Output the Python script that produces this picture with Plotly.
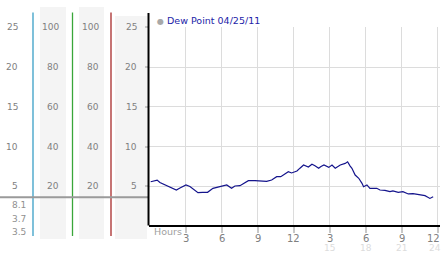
import plotly.graph_objects as go

W, H = 442, 253

# ---------------- data ----------------
hours = [0.06, 0.25, 0.6, 0.83, 1.25, 1.67, 2.2, 2.5, 3.0, 3.33, 3.67, 4.0, 4.4, 4.8,
         5.25, 5.67, 6.08, 6.4, 6.8, 7.08, 7.5, 7.8, 8.2, 8.75, 9.17, 9.72, 10.14,
         10.56, 10.9, 11.25, 11.53, 11.8, 12.08, 12.25, 12.5, 12.8, 13.2, 13.5, 13.75,
         14.06, 14.25, 14.5, 14.9, 15.17, 15.44, 15.86, 16.27, 16.47, 16.67, 16.83,
         17.1, 17.4, 17.67, 17.8, 18.08, 18.33, 18.9, 19.17, 19.58, 20.0, 20.25,
         20.69, 21.08, 21.53, 21.92, 22.33, 22.5, 22.92, 23.33, 23.6]
dew_point = [5.6, 5.65, 5.8, 5.5, 5.2, 4.95, 4.56, 4.8, 5.19, 5.0, 4.6, 4.22, 4.27, 4.27,
             4.77, 4.95, 5.06, 5.19, 4.77, 5.06, 5.1, 5.4, 5.73, 5.73, 5.73, 5.65, 5.82,
             6.23, 6.23, 6.53, 6.86, 6.7, 6.86, 6.95, 7.3, 7.7, 7.45, 7.79, 7.6,
             7.29, 7.5, 7.7, 7.4, 7.7, 7.29, 7.7, 7.9, 8.1, 7.6, 7.29,
             6.44, 6.03, 5.4, 4.97, 5.19, 4.77, 4.77, 4.56, 4.5, 4.35, 4.45,
             4.27, 4.35, 4.06, 4.1, 4.0, 3.93, 3.85, 3.5, 3.72]

temp_ticks = [5, 10, 15, 20, 25]
humidity_ticks = [20, 40, 60, 80, 100]
x_tick_vals = [3, 6, 9, 12, 15, 18, 21, 24]
x_tick_text = ["3", "6", "9", "12", "3", "6", "9", "12"]
x_24h_vals = [15, 18, 21, 24]
x_24h_text = ["15", "18", "21", "24"]
legend_label = "Dew Point 04/25/11"

stats = [f"{max(dew_point):.1f}", f"{dew_point[-1]:.1f}", f"{min(dew_point):.1f}"]

# ---------------- helpers ----------------
def px(x):
    return x / W

def py(y):
    return 1 - y / H

FONT = "DejaVu Sans"
fig = go.Figure()

fig.add_trace(go.Scatter(x=hours, y=dew_point, mode="lines",
                         line=dict(color="#14148c", width=1.2), showlegend=False,
                         hoverinfo="skip"))

shapes = []
# grey bands in the left panel
for x0, x1, y0, y1 in [(40, 66, 7, 239), (79, 104, 7, 239), (115, 147, 16, 239)]:
    shapes.append(dict(type="rect", xref="paper", yref="paper", x0=px(x0), x1=px(x1),
                       y0=py(y1), y1=py(y0), fillcolor="#f4f4f4", line=dict(width=0),
                       layer="below"))
# coloured vertical lines
for x, c in [(33, "#3a9fc6"), (72.5, "#3aa63a"), (111, "#a82a2a")]:
    shapes.append(dict(type="line", xref="paper", yref="paper", x0=px(x), x1=px(x),
                       y0=py(236), y1=py(12.5), line=dict(color=c, width=1.3)))
# grey horizontal separator
shapes.append(dict(type="line", xref="paper", yref="paper", x0=0, x1=px(148),
                   y0=py(197.2), y1=py(197.2), line=dict(color="#9a9a9a", width=2)))
# black left axis line
shapes.append(dict(type="line", xref="paper", yref="paper", x0=px(148.5), x1=px(148.5),
                   y0=py(225.5), y1=py(13), line=dict(color="black", width=2)))

ann = []
# left panel labels
for v, h in zip(temp_ticks, humidity_ticks):
    for xr, t in [(19, v), (60, h), (100, h), (138, v)]:
        ann.append(dict(x=px(xr), xref="paper", y=v, yref="y", text=str(t), showarrow=False,
                        xanchor="right", yanchor="middle", borderpad=0,
                        font=dict(size=9, color="#808080", family=FONT)))
for s, y in zip(stats, [205, 218.5, 232]):
    ann.append(dict(x=px(26.5), xref="paper", y=py(y), yref="paper", text=s, showarrow=False,
                    xanchor="right", yanchor="middle", borderpad=0,
                    font=dict(size=9, color="#909090", family=FONT)))

# x tick labels
ann.append(dict(x=px(153), xref="paper", y=py(231.5), yref="paper", text="Hours", showarrow=False,
                xanchor="left", yanchor="middle", borderpad=0,
                font=dict(size=9.5, color="#a0a0a0", family=FONT)))
for v, t in zip(x_tick_vals, x_tick_text):
    last = v == x_tick_vals[-1]
    ann.append(dict(x=px(441) if last else v, xref="paper" if last else "x", y=py(238), yref="paper",
                    text=t, showarrow=False, xanchor="right" if last else "center", yanchor="middle",
                    borderpad=0, font=dict(size=10, color="#808080", family=FONT)))
for v, t in zip(x_24h_vals, x_24h_text):
    last = v == x_24h_vals[-1]
    ann.append(dict(x=px(442) if last else v, xref="paper" if last else "x", y=py(248), yref="paper",
                    text=t, showarrow=False, xanchor="right" if last else "center", yanchor="middle",
                    borderpad=0, font=dict(size=9, color="#dcdcdc", family=FONT)))

# legend
ann.append(dict(x=px(155), xref="paper", y=py(20.5), yref="paper",
                text="<span style='color:#a8a8a8;font-size:8px'>●</span> <span style='color:#2323a8'>"
                     + legend_label + "</span>",
                showarrow=False, xanchor="left", yanchor="middle",
                font=dict(size=9.5, family=FONT)))

fig.update_layout(
    width=W, height=H, margin=dict(l=0, r=0, t=0, b=0),
    paper_bgcolor="white", plot_bgcolor="white",
    shapes=shapes, annotations=ann, showlegend=False,
    xaxis=dict(domain=[px(149), px(440)], range=[-0.08, 24.17], tickvals=x_tick_vals,
               showticklabels=False, ticks="outside", ticklen=6, tickwidth=2, tickcolor="#c8c8c8",
               showgrid=True, gridcolor="#dcdcdc", gridwidth=1,
               zeroline=False, showline=True, linecolor="black", linewidth=2, fixedrange=True),
    yaxis=dict(domain=[py(225), py(27)], range=[0.16, 25.04], tickvals=temp_ticks,
               showticklabels=False, ticks="outside", ticklen=3, tickwidth=2, tickcolor="#c8c8c8",
               showgrid=True, gridcolor="#dcdcdc", gridwidth=1,
               zeroline=False, showline=False, fixedrange=True),
)

fig.write_html("out.html")
